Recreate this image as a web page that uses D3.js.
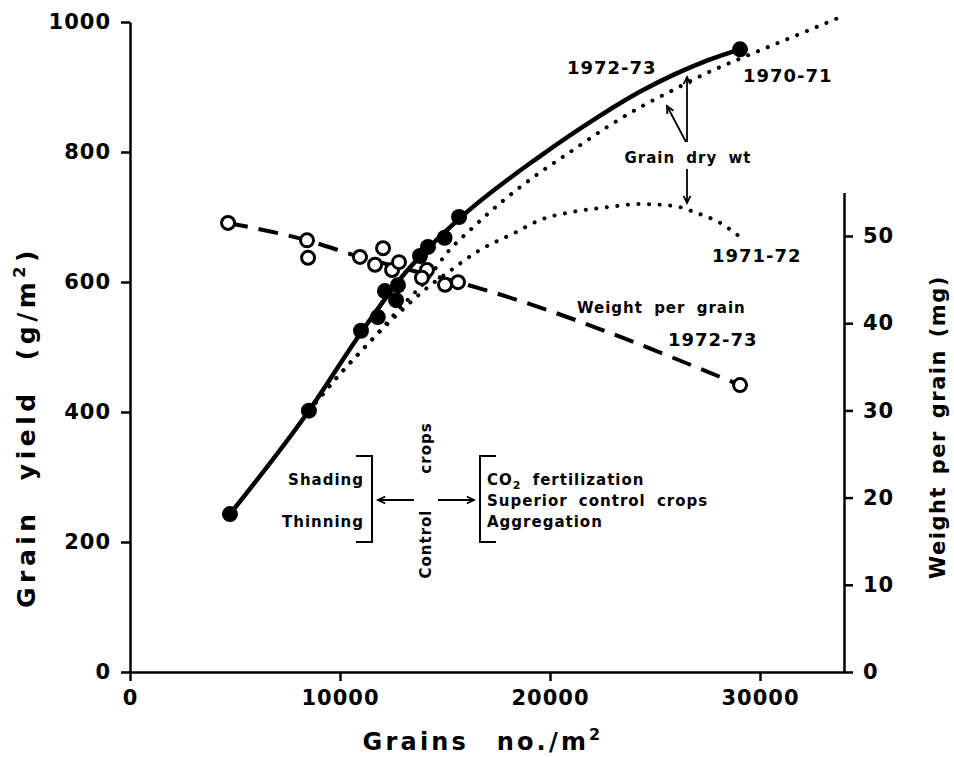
<!DOCTYPE html>
<html><head><meta charset="utf-8">
<script src="https://cdn.jsdelivr.net/npm/d3@7"></script>
<style>
body{margin:0;background:#fff;}
text{font-family:"DejaVu Sans",sans-serif;font-weight:bold;fill:#000;}
</style></head>
<body><svg id="c" width="954" height="757"></svg>
<script>
// ---- data ----
const xTicks = [0, 10000, 20000, 30000];
const yLeftTicks = [0, 200, 400, 600, 800, 1000];
const yRightTicks = [0, 10, 20, 30, 40, 50];

// grain yield, 1972-73 (filled circles)
const yieldGrains = [4760, 8520, 11000, 11800, 12140, 12670, 12760, 13810, 14190, 14980, 15670, 29050];
const yieldValues = [243, 402, 525, 546, 586, 572, 595, 640, 654, 668, 700, 958];

// weight per grain, 1972-73 (open circles)
const weightGrains = [4670, 8430, 8480, 10950, 12050, 11670, 12480, 12810, 14140, 13900, 15000, 15620, 29050];
const weightValues = [51.5, 49.5, 47.5, 47.6, 48.6, 46.7, 46.1, 47.0, 46.1, 45.2, 44.4, 44.7, 32.9];

// fitted curves
const fit7273Grains = [4760, 8520, 11000, 13000, 15670, 19500, 22240, 24300, 25900, 27500, 29050];
const fit7273Yield  = [243, 402, 522, 610, 697, 793, 853, 893, 919, 941, 958];

const fit7071Grains = [8520, 10100, 11600, 13000, 14200, 15100, 16200, 17800, 19500, 21100, 22700, 24300, 25900, 27500, 29000, 30500, 32000, 34000];
const fit7071Yield  = [402, 462, 514, 565, 606, 645, 680, 726, 768, 803, 838, 869, 896, 922, 943, 963, 983, 1010];

const fit7172Grains = [8520, 10100, 11600, 12900, 14150, 15150, 16500, 18400, 19500, 21100, 22700, 24300, 25900, 27000, 28100, 29100];
const fit7172Yield  = [402, 462, 514, 555, 591, 615, 646, 677, 695, 708, 715, 720, 717, 706, 691, 668];

const fitWeightGrains = [4670, 8430, 10950, 13000, 15620, 29050];
const fitWeightValues = [51.5, 49.5, 47.6, 46.3, 44.7, 32.9];

// ---- chart ----
const svg = d3.select("#c");
const x = d3.scaleLinear().domain([0, 34000]).range([130, 844]);
const yL = d3.scaleLinear().domain([0, 1000]).range([672, 22]);
const yR = d3.scaleLinear().domain([0, 55]).range([672, 192.4]);

const tickFont = g => g.selectAll("text").style("font-size", "21px").style("letter-spacing", "1px")
  .style("font-family", "'DejaVu Sans',sans-serif").style("font-weight", "bold");
const axStyle = g => { g.select(".domain").attr("stroke", "#000").attr("stroke-width", 2.5);
  g.selectAll(".tick line").attr("stroke", "#000").attr("stroke-width", 2.5); };

svg.append("g").attr("transform", "translate(0,672)")
  .call(d3.axisBottom(x).tickValues(xTicks).tickFormat(d3.format("d")).tickSize(9).tickSizeOuter(0).tickPadding(9))
  .call(axStyle).call(tickFont);
svg.append("g").attr("transform", "translate(130,0)")
  .call(d3.axisLeft(yL).tickValues(yLeftTicks).tickFormat(d3.format("d")).tickSize(9).tickSizeOuter(0).tickPadding(10))
  .call(axStyle).call(tickFont);
svg.append("g").attr("transform", "translate(844,0)")
  .call(d3.axisRight(yR).tickValues(yRightTicks).tickSize(9).tickSizeOuter(0).tickPadding(10))
  .call(axStyle).call(tickFont);

// curves
const zip = (a, b) => a.map((v, i) => [v, b[i]]);
const lineL = d3.line().x(d => x(d[0])).y(d => yL(d[1])).curve(d3.curveMonotoneX);
const lineR = d3.line().x(d => x(d[0])).y(d => yR(d[1])).curve(d3.curveMonotoneX);

svg.append("path").attr("d", lineL(zip(fit7071Grains, fit7071Yield)))
  .attr("fill", "none").attr("stroke", "#000").attr("stroke-width", 4)
  .attr("stroke-linecap", "round").attr("stroke-dasharray", "0.1 10.5");
svg.append("path").attr("d", lineL(zip(fit7172Grains, fit7172Yield)))
  .attr("fill", "none").attr("stroke", "#000").attr("stroke-width", 4)
  .attr("stroke-linecap", "round").attr("stroke-dasharray", "0.1 10.5");
svg.append("path").attr("d", lineL(zip(fit7273Grains, fit7273Yield)))
  .attr("fill", "none").attr("stroke", "#000").attr("stroke-width", 4.5);
svg.append("path").attr("d", lineR(zip(fitWeightGrains, fitWeightValues)))
  .attr("fill", "none").attr("stroke", "#000").attr("stroke-width", 4)
  .attr("stroke-dasharray", "20 11");

// points
svg.append("g").selectAll("circle").data(zip(weightGrains, weightValues)).join("circle")
  .attr("cx", d => x(d[0])).attr("cy", d => yR(d[1])).attr("r", 6.5)
  .attr("fill", "#fff").attr("stroke", "#000").attr("stroke-width", 3);
svg.append("g").selectAll("circle").data(zip(yieldGrains, yieldValues)).join("circle")
  .attr("cx", d => x(d[0])).attr("cy", d => yL(d[1])).attr("r", 8).attr("fill", "#000");

// axis titles
svg.append("text").attr("x", 483).attr("y", 750).attr("text-anchor", "middle")
  .style("font-size", "24px").style("letter-spacing", "3.2px").style("word-spacing", "16px")
  .call(t => { t.append("tspan").text("Grains no./m"); t.append("tspan").attr("dy", -10).style("font-size", "16px").text("2"); });
svg.append("text").attr("transform", "translate(35,427) rotate(-90)").attr("text-anchor", "middle")
  .style("font-size", "25px").style("letter-spacing", "4.5px").style("word-spacing", "16px")
  .call(t => { t.append("tspan").text("Grain yield (g/m"); t.append("tspan").attr("dy", -10).style("font-size", "16px").text("2");
    t.append("tspan").attr("dy", 10).text(")"); });
svg.append("text").attr("transform", "translate(945,427) rotate(-90)").attr("text-anchor", "middle")
  .style("font-size", "21px").style("letter-spacing", "1.5px").style("word-spacing", "3px")
  .text("Weight per grain (mg)");

// annotations
const ann = (t, px, py, fs, anchor) => svg.append("text").attr("x", px).attr("y", py)
  .attr("text-anchor", anchor || "start").style("font-size", fs + "px").style("letter-spacing", "1px")
  .style("word-spacing", "5px").text(t);
ann("1972-73", 567, 74, 18);
ann("1970-71", 743, 82, 18);
ann("Grain dry wt", 688, 163, 15, "middle");
ann("1971-72", 712, 262, 18);
ann("Weight per grain", 577, 313, 15);
ann("1972-73", 668, 346, 18);
ann("Shading", 364, 485, 15, "end");
ann("Thinning", 364, 527, 15, "end");
const co = ann("CO", 487, 485, 15);
co.append("tspan").attr("dy", 4).style("font-size", "11px").text("2");
co.append("tspan").attr("dy", -4).text(" fertilization");
ann("Superior control crops", 487, 506, 15);
ann("Aggregation", 487, 527, 15);
svg.append("text").attr("transform", "translate(431,448) rotate(-90)").attr("text-anchor", "middle")
  .style("font-size", "15px").style("letter-spacing", "1px").text("crops");
svg.append("text").attr("transform", "translate(431,544) rotate(-90)").attr("text-anchor", "middle")
  .style("font-size", "15px").style("letter-spacing", "1px").text("Control");

// arrows
const arrowLine = (x1, y1, x2, y2) => {
  svg.append("line").attr("x1", x1).attr("y1", y1).attr("x2", x2).attr("y2", y2)
    .attr("stroke", "#000").attr("stroke-width", 1.8);
  const a = Math.atan2(y2 - y1, x2 - x1), L = 8, w = 0.45;
  svg.append("path").attr("d", `M${x2 - L * Math.cos(a - w)},${y2 - L * Math.sin(a - w)}L${x2},${y2}L${x2 - L * Math.cos(a + w)},${y2 - L * Math.sin(a + w)}`)
    .attr("fill", "none").attr("stroke", "#000").attr("stroke-width", 1.8);
};
arrowLine(687, 142, 687, 77);
arrowLine(686, 142, 667, 106);
arrowLine(687, 169, 687, 203);
arrowLine(414, 500, 378, 500);
arrowLine(438, 500, 474, 500);

// brackets
svg.append("path").attr("d", "M356,456H372V542H356").attr("fill", "none").attr("stroke", "#000").attr("stroke-width", 2);
svg.append("path").attr("d", "M496,456H480V542H496").attr("fill", "none").attr("stroke", "#000").attr("stroke-width", 2);
</script></body></html>
